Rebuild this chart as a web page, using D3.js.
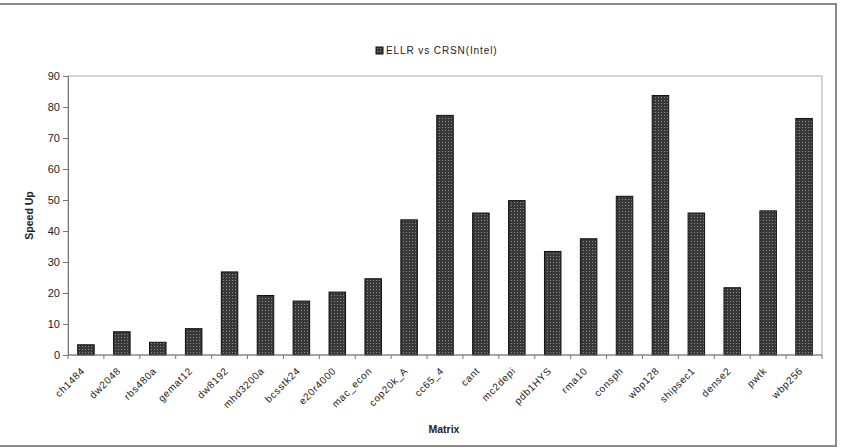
<!DOCTYPE html>
<html>
<head>
<meta charset="utf-8">
<script src="https://cdn.jsdelivr.net/npm/d3@7"></script>
<style>
  body { margin: 0; background: #fff; }
  text { font-family: "Liberation Sans", Arial, sans-serif; fill: #222; }
</style>
</head>
<body>
<div id="grafico"></div>
<script>
// datos
const matrices = ["ch1484", "dw2048", "rbs480a", "gemat12", "dw8192", "mhd3200a", "bcsstk24",
    "e20r4000", "mac_econ", "cop20k_A", "cc65_4", "cant", "mc2depi", "pdb1HYS", "rma10",
    "consph", "wbp128", "shipsec1", "dense2", "pwtk", "wbp256"];
const speedUp = [3.3, 7.5, 4.1, 8.5, 26.8, 19.2, 17.4, 20.3, 24.6, 43.6, 77.3, 45.8, 49.8,
    33.4, 37.5, 51.2, 83.7, 45.8, 21.7, 46.5, 76.3];
const ticksY = [0, 10, 20, 30, 40, 50, 60, 70, 80, 90];
const serie = "ELLR vs CRSN(Intel)";

const ancho = 844, alto = 447;
const margen = { top: 76, right: 22, bottom: 92, left: 68 };

const $svg = d3.select("#grafico")
    .append("svg")
    .attr("width", ancho)
    .attr("height", alto);

// patron de las barras (trama oscura)
const patron = $svg.append("defs")
    .append("pattern")
    .attr("id", "trama")
    .attr("patternUnits", "userSpaceOnUse")
    .attr("width", 3)
    .attr("height", 3);
patron.append("rect").attr("width", 3).attr("height", 3).attr("fill", "#383838");
patron.append("rect").attr("x", 1).attr("y", 1).attr("width", 1).attr("height", 1).attr("fill", "#8a8a8a");

// marco exterior
$svg.append("rect")
    .attr("x", -2).attr("y", 4)
    .attr("width", 838).attr("height", 442)
    .attr("fill", "none")
    .attr("stroke", "#8a8a8a")
    .attr("stroke-width", 2);

const x = d3.scaleBand()
    .domain(matrices)
    .range([margen.left, ancho - margen.right])
    .paddingInner(0.54)
    .paddingOuter(0.27);

const y = d3.scaleLinear()
    .domain([0, 90])
    .range([alto - margen.bottom, margen.top]);

// borde del area de trazado
$svg.append("rect")
    .attr("x", margen.left).attr("y", margen.top)
    .attr("width", ancho - margen.right - margen.left)
    .attr("height", alto - margen.bottom - margen.top)
    .attr("fill", "none")
    .attr("stroke", "#aaa")
    .attr("stroke-width", 1);

// barras
$svg.append("g")
    .selectAll("rect")
    .data(matrices)
    .join("rect")
    .attr("x", d => x(d))
    .attr("y", (d, i) => y(speedUp[i]))
    .attr("width", x.bandwidth())
    .attr("height", (d, i) => y(0) - y(speedUp[i]))
    .attr("fill", "url(#trama)")
    .attr("stroke", "#111")
    .attr("stroke-width", 1);

// eje Y
const ejeY = $svg.append("g")
    .attr("transform", `translate(${margen.left},0)`)
    .call(d3.axisLeft(y).tickValues(ticksY).tickSize(5).tickSizeOuter(0).tickPadding(3));
ejeY.select(".domain").attr("stroke", "#777");
ejeY.selectAll(".tick line").attr("stroke", "#777");
ejeY.selectAll("text").attr("font-size", 11).attr("fill", "#333")
    .style("font-family", "'Liberation Sans Narrow', 'Liberation Sans', Arial");

// eje X: marcas entre categorias
const bordes = d3.range(matrices.length + 1).map(i => margen.left + i * (ancho - margen.right - margen.left) / matrices.length);
const ejeX = $svg.append("g")
    .attr("transform", `translate(0,${y(0)})`);
ejeX.append("line")
    .attr("x1", margen.left).attr("x2", ancho - margen.right)
    .attr("stroke", "#777");
ejeX.selectAll(".marca")
    .data(bordes)
    .join("line")
    .attr("class", "marca")
    .attr("x1", d => d).attr("x2", d => d)
    .attr("y1", 0).attr("y2", 4)
    .attr("stroke", "#777");
ejeX.selectAll(".etiqueta")
    .data(matrices)
    .join("text")
    .attr("class", "etiqueta")
    .attr("transform", d => `translate(${x(d) + x.bandwidth() / 2 - 3},${14}) rotate(-45)`)
    .attr("text-anchor", "end")
    .attr("dy", "0.35em")
    .attr("font-size", 10)
    .attr("letter-spacing", 0.7)
    .attr("fill", "#333")
    .text(d => d);

// titulos de los ejes
$svg.append("text")
    .attr("x", 444).attr("y", 433)
    .attr("text-anchor", "middle")
    .attr("font-size", 10.5)
    .attr("font-weight", "bold")
    .text("Matrix");

$svg.append("text")
    .attr("transform", `translate(33,${(margen.top + y(0)) / 2}) rotate(-90)`)
    .attr("text-anchor", "middle")
    .attr("font-size", 10.5)
    .attr("font-weight", "bold")
    .text("Speed Up");

// leyenda
const leyenda = $svg.append("g").attr("transform", "translate(376,47)");
leyenda.append("rect")
    .attr("width", 7).attr("height", 7)
    .attr("fill", "url(#trama)")
    .attr("stroke", "#111");
leyenda.append("text")
    .attr("x", 10).attr("y", 7)
    .attr("font-size", 10)
    .attr("letter-spacing", 0.9)
    .attr("fill", "#333")
    .text(serie);
</script>
</body>
</html>
